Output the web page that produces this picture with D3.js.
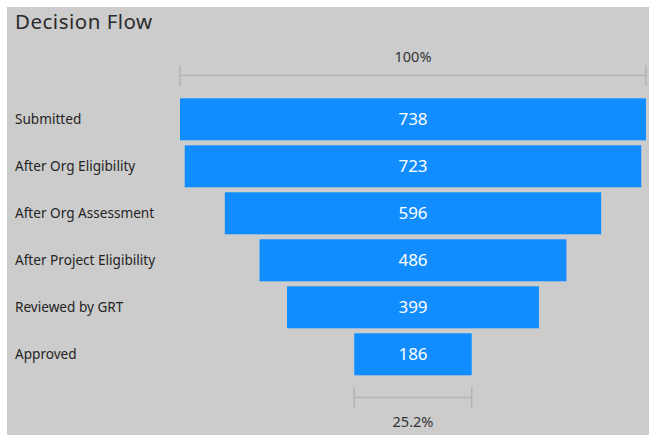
<!DOCTYPE html>
<html><head><meta charset="utf-8">
<script src="https://cdn.jsdelivr.net/npm/d3@7"></script>
<style>
html,body{margin:0;padding:0;background:#fff;}
svg{display:block;}
</style></head>
<body>
<svg id="chart" width="649" height="435"></svg>
<script>
const title = "Decision Flow";
const categories = ["Submitted","After Org Eligibility","After Org Assessment","After Project Eligibility","Reviewed by GRT","Approved"];
const values = [738,723,596,486,399,186];

(function(){
const W = 649, H = 435;
const svg = d3.select("#chart");
const font = "'Noto Sans', 'Open Sans', sans-serif";

svg.append("rect").attr("x",7).attr("y",7).attr("width",W-7).attr("height",H-7).attr("fill","#cccccc");

svg.append("text").attr("x",15).attr("y",29).text(title)
  .attr("font-family",font).attr("font-size",20.5).attr("letter-spacing",0.5).attr("fill","#2b2b2b");

const cx = 413, fullW = 466;
const w = d3.scaleLinear().domain([0, d3.max(values)]).range([0, fullW]);
const y = d3.scaleBand().domain(categories).range([98.3, 375.3]).paddingInner(0.106).paddingOuter(0);

const g = svg.append("g");
g.selectAll("rect.bar").data(categories).join("rect").attr("class","bar")
  .attr("x",(d,i)=>cx - w(values[i])/2)
  .attr("y",d=>y(d))
  .attr("width",(d,i)=>w(values[i]))
  .attr("height",y.bandwidth())
  .attr("fill","#118dff");

g.selectAll("text.val").data(categories).join("text").attr("class","val")
  .attr("x",cx).attr("y",d=>y(d)+y.bandwidth()/2)
  .attr("dy","0.36em").attr("text-anchor","middle")
  .attr("font-family",font).attr("font-size",17).attr("fill","#ffffff")
  .text((d,i)=>values[i]);

g.selectAll("text.cat").data(categories).join("text").attr("class","cat")
  .attr("x",15).attr("y",d=>y(d)+y.bandwidth()/2)
  .attr("dy","0.35em")
  .attr("font-family",font).attr("font-size",13.6).attr("fill","#252423")
  .text(d=>d);

function bracket(v, ly, label, labelY){
  const x0 = cx - w(v)/2, x1 = cx + w(v)/2;
  const b = svg.append("g").attr("stroke","#b2b2b2").attr("stroke-width",1.5);
  b.append("line").attr("x1",x0).attr("x2",x1).attr("y1",ly).attr("y2",ly);
  b.append("line").attr("x1",x0).attr("x2",x0).attr("y1",ly-10.5).attr("y2",ly+10.5);
  b.append("line").attr("x1",x1).attr("x2",x1).attr("y1",ly-10.5).attr("y2",ly+10.5);
  svg.append("text").attr("x",cx).attr("y",labelY).attr("dy","0.35em").attr("text-anchor","middle")
    .attr("font-family",font).attr("font-size",14.5).attr("fill","#333333").text(label);
}
const fmt = d3.format(".1%");
const first = values[0], last = values[values.length-1];
bracket(first, 75.5, "100%", 56.5);
bracket(last, 397.5, fmt(last/first), 421.5);
})();
</script>
</body></html>
